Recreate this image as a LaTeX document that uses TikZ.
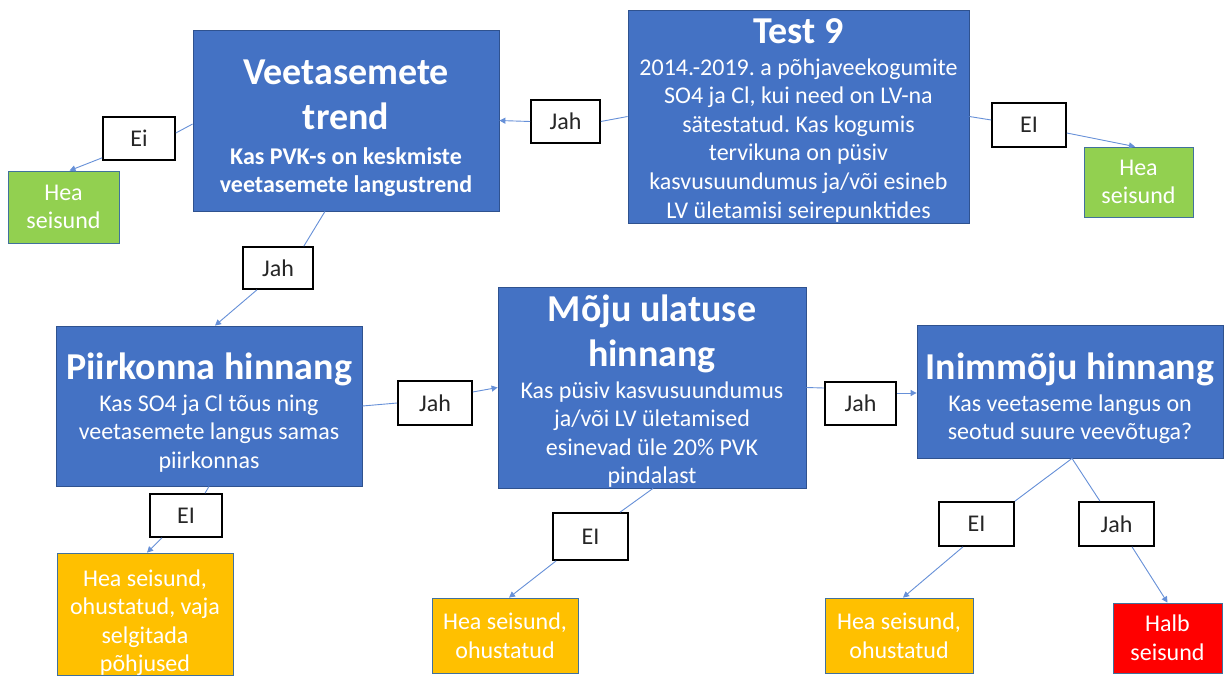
\documentclass[tikz,border=0pt]{standalone}
\usepackage{fontspec}
\setmainfont{Carlito}
\usetikzlibrary{arrows.meta}
\frenchspacing

\definecolor{boxblue}{HTML}{4472C4}
\definecolor{boxedge}{HTML}{2F528F}
\definecolor{okgreen}{HTML}{92D050}
\definecolor{warnorange}{HTML}{FFC000}
\definecolor{badred}{HTML}{FF0000}
\definecolor{edgeblue}{HTML}{41719C}
\definecolor{linkblue}{HTML}{6690D8}

% heading and body text inside the decision boxes (plain word spaces of the font)
\newcommand\ttl[1]{{\fontsize{38}{45}\selectfont\bfseries\spaceskip=.2264em\relax #1\par}}
\newcommand\bdy[1]{{\fontsize{24}{28.6}\selectfont\spaceskip=.2264em\relax #1\par}}

% boxes are placed by their first baseline: text height = top edge to first
% baseline, text depth = first baseline to bottom edge
\tikzset{
  decision/.style={draw=boxedge, line width=0.8pt, fill=boxblue, text=white,
    align=center, inner sep=0pt},
  outcome/.style={draw=edgeblue, line width=0.8pt, text=white, align=center,
    inner sep=0pt, font=\fontsize{24}{28.6}\selectfont},
  answer/.style={draw=black, line width=1.6pt, fill=white, text=black!85,
    inner sep=0pt, font=\fontsize{24}{28.6}\selectfont},
  link/.style={draw=linkblue, line width=0.9pt},
  arr/.style={link, -{Triangle[length=6pt,width=6pt]}}
}

\begin{document}
\begin{tikzpicture}[x=1pt,y=-1pt]
\fill[white] (0,0) rectangle (1224,681);
\useasboundingbox (0,0) rectangle (1224,681);

% decision boxes
\node[decision, minimum width=341, text width=335, text height=33, text depth=180] (test) at (798.5,116.5)
  {\ttl{Test 9}\vspace{3.4pt}\bdy{2014.-2019. a põhjaveekogumite\\SO4 ja Cl, kui need on LV-na\\sätestatud. Kas kogumis\\tervikuna on püsiv\\kasvusuundumus ja/või esineb\\LV ületamisi seirepunktides}};
\node[decision, minimum width=306, text width=300, text height=54, text depth=127] (trend) at (346,120.5)
  {\ttl{Veetasemete\\trend}\vspace{6.4pt}\bdy{\bfseries Kas PVK-s on keskmiste\\veetasemete langustrend}};
\node[decision, minimum width=306, text width=300, text height=53, text depth=107] (piir) at (209,406)
  {\ttl{Piirkonna hinnang}\vspace{3.4pt}\bdy{Kas SO4 ja Cl tõus ning\\veetasemete langus samas\\piirkonnas}};
\node[decision, minimum width=308, text width=302, text height=34.5, text depth=166.5] (moju) at (652,387.5)
  {\ttl{Mõju ulatuse\\hinnang}\vspace{2.9pt}\bdy{Kas püsiv kasvusuundumus\\ja/või LV ületamised\\esinevad üle 20\% PVK\\pindalast}};
\node[decision, minimum width=306, text width=300, text height=54, text depth=79] (inim) at (1070,391.5)
  {\ttl{Inimmõju hinnang}\vspace{3.4pt}\bdy{Kas veetaseme langus on\\seotud suure veevõtuga?}};

% outcome boxes
\node[outcome, fill=okgreen, minimum width=111, minimum height=72] (g1) at (63.5,207) {Hea\\seisund};
\node[outcome, fill=okgreen, minimum width=109, minimum height=70] (g2) at (1138.5,182) {Hea\\seisund};
\node[outcome, fill=warnorange, minimum width=176, text width=170, text height=33, text depth=89] (o1) at (145,614)
  {\spaceskip=.2264em\relax Hea seisund,\\ohustatud, vaja\\selgitada\\põhjused};
\node[outcome, fill=warnorange, minimum width=146, minimum height=75] (o2) at (505,635.5) {Hea seisund,\\ohustatud};
\node[outcome, fill=warnorange, minimum width=148, minimum height=75] (o3) at (899,635.5) {Hea seisund,\\ohustatud};
\node[outcome, fill=badred, minimum width=109, minimum height=70] (red) at (1167.5,638) {Halb\\seisund};

% answer labels
\node[answer, minimum width=72, minimum height=43] (l1) at (139,138.5) {Ei};
\node[answer, minimum width=69, minimum height=43] (l2) at (565.5,121.5) {Jah};
\node[answer, minimum width=74, minimum height=44] (l3) at (1029,125) {EI};
\node[answer, minimum width=70, minimum height=42] (l4) at (278,268) {Jah};
\node[answer, minimum width=74, minimum height=44] (l5) at (435,403) {Jah};
\node[answer, minimum width=71, minimum height=43] (l6) at (860.5,403.5) {Jah};
\node[answer, minimum width=72, minimum height=43] (l7) at (186,515.5) {EI};
\node[answer, minimum width=75, minimum height=47] (l8) at (590.5,536.5) {EI};
\node[answer, minimum width=75, minimum height=44] (l9) at (976.5,524) {EI};
\node[answer, minimum width=75, minimum height=44] (l10) at (1116.5,524) {Jah};

% connectors
\draw[link] (test.west) -- (l2.east);
\draw[arr] (l2.west) -- (trend.east);
\draw[link] ([yshift=-3.5pt]trend.west) -- ([yshift=5.5pt]l1.east);
\draw[arr] ([yshift=3pt]l1.south west) -- ([xshift=6pt]g1.north);
\draw[link] (test.east) -- ([yshift=5pt]l3.west);
\draw[arr] ([yshift=-8pt]l3.east) -- ([xshift=-3.5pt]g2.north);
\draw[link] ([xshift=-21pt]trend.south) -- ([xshift=-10pt]l4.north east);
\draw[arr] ([xshift=-21pt]l4.south) -- ([xshift=6pt]piir.north);
\draw[link] (piir.east) -- (l5.west);
\draw[arr] ([yshift=11pt]l5.east) -- (moju.west);
\draw[link] (moju.east) -- ([yshift=15.5pt]l6.west);
\draw[arr] ([yshift=10.5pt]l6.east) -- ([yshift=-1.5pt]inim.west);
\draw[link] (piir.south) -- ([xshift=19pt]l7.north);
\draw[arr] ([xshift=-24pt]l7.south) -- ([xshift=2pt]o1.north);
\draw[link] ([xshift=1pt]moju.south) -- ([xshift=29.5pt]l8.north);
\draw[arr] ([xshift=4pt]l8.south west) -- ([xshift=4pt]o2.north);
\draw[link] ([xshift=2pt]inim.south) -- (l9.north east);
\draw[arr] ([xshift=-13.5pt]l9.south) -- ([xshift=4pt]o3.north);
\draw[link] ([xshift=2pt]inim.south) -- ([xshift=-16.5pt]l10.north);
\draw[arr] ([xshift=15.5pt]l10.south) -- (red.north);
\end{tikzpicture}
\end{document}
